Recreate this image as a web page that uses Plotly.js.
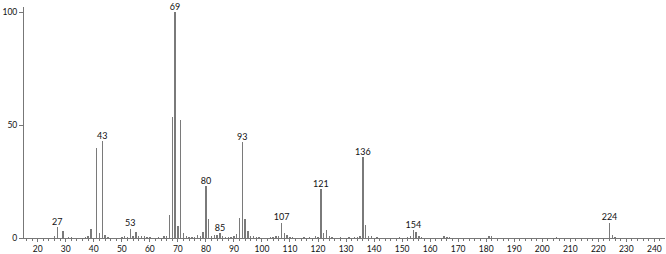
<!DOCTYPE html>
<html>
<head>
<meta charset="utf-8">
<script src="https://cdn.plot.ly/plotly-3.0.1.min.js"></script>
<style>body{margin:0;padding:0;background:#fff}#chart{width:666px;height:254px}</style>
</head>
<body>
<div id="chart"></div>
<script>
// m/z values and relative intensities
var mz = [26,27,29,31,32,37,38,39,41,42,43,44,45,50,51,52,53,54,55,56,57,58,59,60,63,65,66,67,68,69,70,71,72,73,74,75,76,77,78,79,80,81,82,83,84,85,86,87,88,89,90,91,92,93,94,95,96,97,98,99,103,104,105,106,107,108,109,110,111,115,117,119,120,121,122,123,124,125,128,131,133,134,135,136,137,138,139,141,149,152,153,154,155,156,157,165,166,167,181,182,205,224,225,226];
var intensity = [1.0,4.9,3.0,0.6,0.4,0.5,0.8,3.9,39.7,2.2,42.8,1.5,0.6,0.6,0.8,0.6,4.2,1.0,2.8,0.8,0.8,0.7,0.6,0.4,0.6,1.0,0.7,10.4,53.5,100,5.5,52.2,2.4,0.8,0.4,0.5,0.4,1.3,0.8,2.8,23.1,8.6,1.0,1.2,1.5,2.0,0.8,0.6,0.5,0.6,0.8,1.6,9.0,42.3,8.6,3.0,1.0,0.7,0.5,0.5,0.5,0.6,1.0,1.0,6.8,2.0,1.2,0.6,0.5,0.4,0.5,0.8,0.5,21.5,2.2,3.7,0.8,0.5,0.5,0.5,0.6,0.5,1.0,35.7,5.6,1.0,0.8,0.5,0.5,0.5,0.8,3.4,2.7,0.8,0.5,0.7,0.5,0.4,0.7,0.7,0.5,6.8,1.5,0.5];
// labelled peaks
var labelMz = [27,43,53,69,80,85,93,107,121,136,154,224];
var labelText = ["27","43","53","69","80","85","93","107","121","136","154","224"];
var xTicks = [20,30,40,50,60,70,80,90,100,110,120,130,140,150,160,170,180,190,200,210,220,230,240];
var yTicks = [0,50,100];

var labelY = labelMz.map(function(m){ return intensity[mz.indexOf(m)]; });

var FONT = "Lato, 'Noto Sans', sans-serif";

var bars = {
  type: 'bar', x: mz, y: intensity, width: 0.5,
  marker: {color: '#7a7a7a', line: {width: 0}},
  hoverinfo: 'x+y'
};
var labels = {
  type: 'scatter', mode: 'text', x: labelMz, y: labelY, text: labelText,
  textposition: 'top center', textfont: {family: FONT, size: 9, color: '#111'},
  hoverinfo: 'skip', cliponaxis: false
};

var layout = {
  width: 666, height: 254,
  margin: {l: 24, r: 1, t: 7, b: 16, pad: 0},
  paper_bgcolor: '#fff', plot_bgcolor: '#fff',
  showlegend: false, bargap: 0,
  font: {family: FONT, size: 9, color: '#111'},
  xaxis: {
    range: [15.1, 243.8], tickmode: 'array', tickvals: xTicks,
    ticks: 'outside', ticklen: 3, tickwidth: 1, tickcolor: '#777',
    minor: {dtick: 2, tick0: 0, ticks: 'outside', ticklen: 2, tickcolor: '#777', showgrid: false},
    showline: true, linecolor: '#777', linewidth: 1,
    showgrid: false, zeroline: false,
    tickfont: {family: FONT, size: 8.5, color: '#111'}
  },
  yaxis: {
    range: [0, 102.3], tickmode: 'array', tickvals: yTicks,
    ticks: 'outside', ticklen: 4, tickwidth: 1, tickcolor: '#777',
    showline: true, linecolor: '#777', linewidth: 1,
    showgrid: false, zeroline: false,
    tickfont: {family: FONT, size: 8.5, color: '#111'}
  }
};

Plotly.newPlot('chart', [bars, labels], layout, {staticPlot: true});
</script>
</body>
</html>
